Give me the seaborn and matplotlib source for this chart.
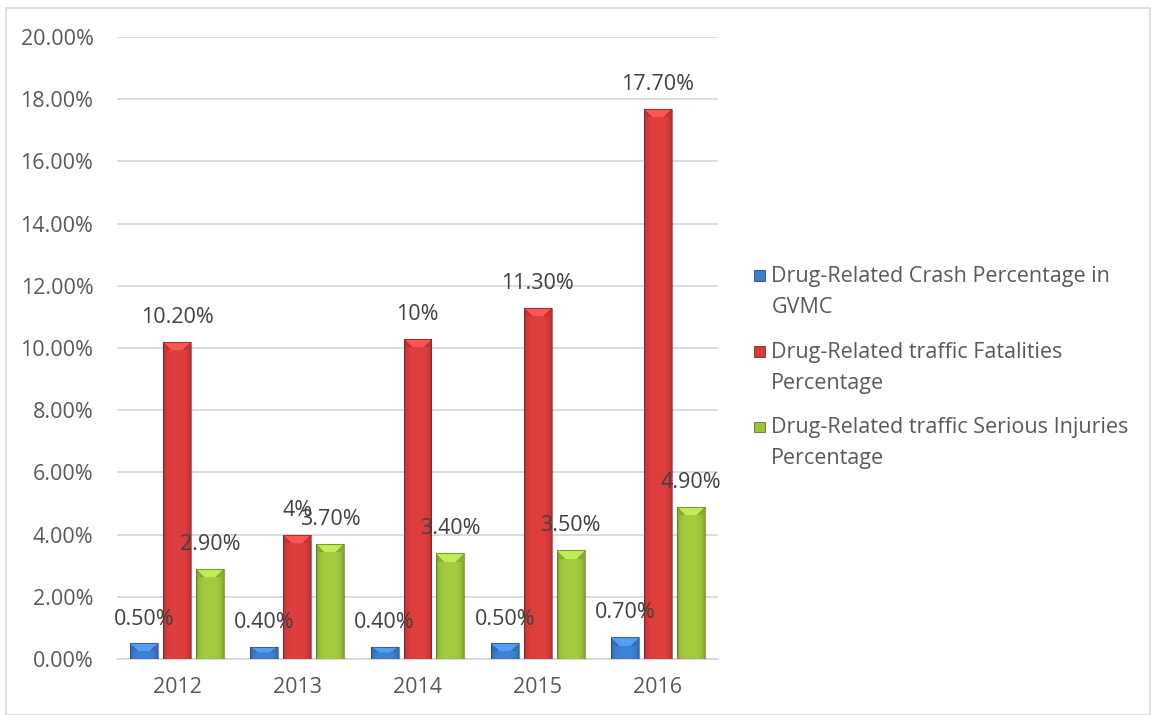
import numpy as np
import pandas as pd
import matplotlib
matplotlib.use("Agg")
import matplotlib.pyplot as plt
import matplotlib.patches as mpatches
from matplotlib.colors import to_rgb
from matplotlib.legend_handler import HandlerPatch
from matplotlib.ticker import PercentFormatter
import seaborn as sns

# --- data -------------------------------------------------------------------
years = ["2012", "2013", "2014", "2015", "2016"]
series_names = [
    "Drug-Related Crash Percentage in\nGVMC",
    "Drug-Related traffic Fatalities\nPercentage",
    "Drug-Related traffic Serious Injuries\nPercentage",
]
crash_pct = [0.5, 0.4, 0.4, 0.5, 0.7]
fatality_pct = [10.2, 4.0, 10.3, 11.3, 17.7]
injury_pct = [2.9, 3.7, 3.4, 3.5, 4.9]
# number of decimals shown in each data label
crash_dec = [2, 2, 2, 2, 2]
fatality_dec = [2, 0, 0, 2, 2]
injury_dec = [2, 2, 2, 2, 2]

colors = ["#3D7DCC", "#D63C3C", "#9CC43C"]
text_gray = "#595959"
label_gray = "#404040"
FS = 15.5

values = [crash_pct, fatality_pct, injury_pct]
decimals = [crash_dec, fatality_dec, injury_dec]

df = pd.DataFrame({
    "year": np.tile(years, 3),
    "series": np.repeat(series_names, len(years)),
    "value": np.concatenate([np.array(v) / 100.0 for v in values]),
})

# --- figure -----------------------------------------------------------------
sns.set_theme(style="white")
plt.rcParams["font.family"] = ["Open Sans", "DejaVu Sans"]

W, H = 1151, 715
fig = plt.figure(figsize=(W / 100, H / 100), dpi=100)
ax = fig.add_axes([117 / W, 1 - 659 / H, (718 - 117) / W, (659 - 37) / H])

sns.barplot(data=df, x="year", y="value", hue="series", hue_order=series_names,
            order=years, palette=colors, width=0.82, gap=0.15, legend=False,
            edgecolor="none", linewidth=0, ax=ax, zorder=3)

ax.set_ylim(0, 0.20)
ax.set_xlim(-0.5, len(years) - 0.5)
ax.set_yticks(np.arange(0, 0.2001, 0.02))
ax.yaxis.set_major_formatter(PercentFormatter(xmax=1.0, decimals=2))
ax.grid(axis="y", color="#D9D9D9", linewidth=1.3, zorder=0)
ax.set_axisbelow(True)
for side in ["top", "right", "left"]:
    ax.spines[side].set_visible(False)
ax.spines["bottom"].set_color("#D9D9D9")
ax.spines["bottom"].set_linewidth(1.3)
ax.set_xlabel("")
ax.set_ylabel("")
ax.tick_params(axis="both", length=0, labelsize=FS, colors=text_gray)
ax.tick_params(axis="x", pad=13)
ax.tick_params(axis="y", pad=17)

# --- shaded, bevelled bar faces ------------------------------------------------
px_per_unit = (659 - 37) / 0.20


def shade(base, nrows, ncols, cap=9):
    rgb = np.array(to_rgb(base))
    u = (np.arange(ncols) + 0.5) / ncols
    d = np.abs(2 * u - 1)
    side = 1.04 - 0.22 * d ** 4
    img = np.clip(rgb[None, None, :] * side[None, :, None], 0, 1)
    img = np.repeat(img, nrows, axis=0)
    rows = np.arange(nrows)[:, None]
    capn = min(cap, max(nrows // 2, 1))
    top = np.broadcast_to(rows < capn, (nrows, ncols))
    # top facet: light trapezoid narrowing downwards, darker side facets
    light = top & (rows < capn * (1.0 - d[None, :]) * 1.5)
    img[top] = np.clip(rgb * 0.88, 0, 1)
    img[light] = np.clip(rgb * 1.12 + 0.07, 0, 1)
    return img


for container, base in zip(ax.containers, colors):
    for bar in container:
        x0, y0 = bar.get_x(), bar.get_y()
        w, h = bar.get_width(), bar.get_height()
        nrows = max(int(round(h * px_per_unit)), 2)
        img = shade(base, nrows, 28)
        im = ax.imshow(img, extent=(x0, x0 + w, y0, y0 + h), aspect="auto",
                       interpolation="bilinear", zorder=3.5)
        im.set_clip_path(bar)
        edge = mpatches.Rectangle((x0, y0), w, h, fill=False,
                                  edgecolor=tuple(np.array(to_rgb(base)) * 0.5),
                                  linewidth=0.8, alpha=0.6, zorder=3.6)
        ax.add_patch(edge)

ax.set_xlim(-0.5, len(years) - 0.5)
ax.set_ylim(0, 0.20)

# --- data labels ------------------------------------------------------------
for container, vals, decs in zip(ax.containers, values, decimals):
    labels = [f"{v:.{d}f}%" for v, d in zip(vals, decs)]
    ax.bar_label(container, labels=labels, padding=10, fontsize=FS,
                 color=label_gray, zorder=5)

# --- legend -----------------------------------------------------------------
SQ = 7.5  # legend swatch side, points


def swatch(legend, orig_handle, xdescent, ydescent, width, height, fontsize):
    return mpatches.Rectangle((-xdescent + (width - SQ) / 2,
                               -ydescent + (height - SQ) / 2), SQ, SQ)


handles = [mpatches.Patch(facecolor=c, edgecolor=tuple(np.array(to_rgb(c)) * 0.6),
                          linewidth=0.6) for c in colors]
leg = fig.legend(handles, series_names, loc="upper left",
                 bbox_to_anchor=(739 / W, 1 - 251 / H), frameon=False,
                 fontsize=FS, labelcolor=text_gray, handlelength=0.5,
                 handleheight=1.0, handletextpad=0.3, labelspacing=1.1,
                 borderpad=0.2,
                 handler_map={mpatches.Patch: HandlerPatch(patch_func=swatch)})
for t in leg.get_texts():
    t.set_linespacing(1.62)
# put each swatch level with the first line of its label
for column in leg._legend_handle_box.get_children():
    for row in column.get_children():
        row.align = "top"

# --- chart border -----------------------------------------------------------
fig.patches.append(mpatches.Rectangle((6 / W, 0.5 / H), (W - 7) / W, (H - 8) / H,
                                      transform=fig.transFigure, fill=False,
                                      edgecolor="#D9D9D9", linewidth=1.2))

fig.savefig("out.png", dpi=100)
